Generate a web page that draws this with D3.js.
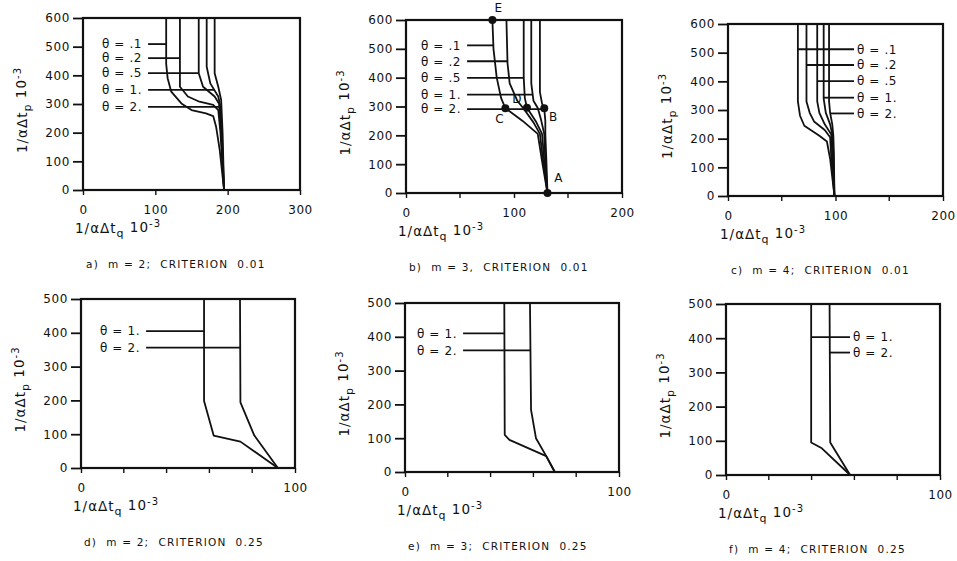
<!DOCTYPE html>
<html>
<head>
<meta charset="utf-8">
<script src="https://cdn.jsdelivr.net/npm/d3@7"></script>
<style>
body { margin: 0; background: #fff; }
text { font-family: "DejaVu Sans", sans-serif; fill: #111; }
</style>
</head>
<body>
<svg id="chart" width="957" height="561"></svg>
<script>
// values, units of 10^-3
var thetaSmall = ["θ = .1", "θ = .2", "θ = .5", "θ = 1.", "θ = 2."];
var thetaLarge = ["θ = 1.", "θ = 2."];

var captions = [
    "a)  m = 2;  CRITERION  0.01",
    "b)  m = 3,  CRITERION  0.01",
    "c)  m = 4;  CRITERION  0.01",
    "d)  m = 2;  CRITERION  0.25",
    "e)  m = 3;  CRITERION  0.25",
    "f)  m = 4;  CRITERION  0.25"
];

var yTicks600 = [0, 100, 200, 300, 400, 500, 600];
var yTicks500 = [0, 100, 200, 300, 400, 500];
var xTicks300 = [0, 100, 200, 300];
var xTicks200 = [0, 100, 200];
var xTicks100 = [0, 100];
var xMinor200 = [50, 150];
var xMinor100 = [20, 40, 60, 80];

// [1/a dt_q, 1/a dt_p] per theta curve
var curvesA = [
    [[115,600],[115,440],[117,390],[122,343],[136,302],[150,279],[170,267],[180,258],[184,221],[189,140],[195,0]],
    [[134,600],[134,360],[145,326],[161,308],[180,297],[187,279],[190,200],[195,0]],
    [[160,600],[160,407],[166,360],[182,326],[188,302],[191,200],[195,0]],
    [[171,600],[171,430],[176,372],[187,326],[190,291],[192,200],[195,0]],
    [[182,600],[182,407],[187,360],[191,314],[193,200],[195,0]]
];
var leaderA = [509, 460, 408, 349, 290];

var curvesB = [
    [[80,600],[81,500],[84,400],[88,330],[92,294],[108,250],[122,205],[126,110],[131,0]],
    [[93,600],[94,450],[96,380],[103,320],[109,292],[118,245],[124,205],[127,110],[131,0]],
    [[109,600],[109,400],[110,330],[112,296],[120,250],[126,205],[128,110],[131,0]],
    [[116,600],[116,380],[118,320],[122,295],[125,255],[128,205],[129,110],[131,0]],
    [[124,600],[124,350],[126,310],[128,294],[129,250],[129,205],[130,110],[131,0]]
];
var leaderB = [512, 457, 399, 341, 291];
var pointsB = [[80,600],[92,294],[112,296],[128,294],[131,0]];
var pointNamesB = ["E", "C", "D", "B", "A"];

var curvesC = [
    [[65,600],[65,330],[67,280],[71,245],[85,210],[92,190],[95,130],[99,0]],
    [[73,600],[73,330],[76,290],[80,260],[90,230],[95,205],[96,140],[99,0]],
    [[83,600],[83,330],[85,290],[90,250],[96,215],[97,150],[99,0]],
    [[89,600],[89,340],[91,290],[95,250],[97,215],[98,150],[99,0]],
    [[94,600],[94,330],[95,290],[97,250],[98,210],[98.5,150],[99,0]]
];
var leaderC = [512, 457, 401, 343, 288];

var curvesD = [
    [[57.5,500],[57.5,198],[62,96],[74.5,78],[92,0]],
    [[74.3,500],[74.5,194],[81,96],[92,0]]
];
var leaderD = [405, 356];

var curvesE = [
    [[46.4,500],[46.6,110],[48.8,95],[66,47],[70,0]],
    [[58.4,500],[58.9,184],[61.2,100],[66,47],[70,0]]
];
var leaderE = [410, 360];

var curvesF = [
    [[39.8,500],[39.8,95],[44.8,78],[58,0]],
    [[48.4,500],[48.7,95],[58,0]]
];
var leaderF = [403, 358];

// layout of the six panels
var panels = [
    {left: 83, right: 300, top: 18, bottom: 190, xMax: 300, yMax: 600, xTicks: xTicks300, xMinor: [], yTicks: yTicks600,
     curves: curvesA, leaders: leaderA, names: thetaSmall, side: "left", labelX: 102, caption: captions[0]},
    {left: 406, right: 622, top: 20, bottom: 193, xMax: 200, yMax: 600, xTicks: xTicks200, xMinor: xMinor200, yTicks: yTicks600,
     curves: curvesB, leaders: leaderB, names: thetaSmall, side: "left", labelX: 421, caption: captions[1], points: pointsB},
    {left: 728, right: 943, top: 24, bottom: 196, xMax: 200, yMax: 600, xTicks: xTicks200, xMinor: xMinor200, yTicks: yTicks600,
     curves: curvesC, leaders: leaderC, names: thetaSmall, side: "right", labelX: 854, caption: captions[2]},
    {left: 81, right: 295, top: 299, bottom: 468, xMax: 100, yMax: 500, xTicks: xTicks100, xMinor: xMinor100, yTicks: yTicks500,
     curves: curvesD, leaders: leaderD, names: thetaLarge, side: "left", labelX: 100, caption: captions[3]},
    {left: 405, right: 619, top: 303, bottom: 472, xMax: 100, yMax: 500, xTicks: xTicks100, xMinor: xMinor100, yTicks: yTicks500,
     curves: curvesE, leaders: leaderE, names: thetaLarge, side: "left", labelX: 417, caption: captions[4]},
    {left: 726, right: 940, top: 304, bottom: 475, xMax: 100, yMax: 500, xTicks: xTicks100, xMinor: xMinor100, yTicks: yTicks500,
     curves: curvesF, leaders: leaderF, names: thetaLarge, side: "right", labelX: 850, caption: captions[5]}
];

// offsets for the point letters in panel b
var pointLabelOffset = [[6, -8], [-6, 15], [-10, -5], [9, 13], [11, -11]];

var svg = d3.select("#chart");

// x of a curve at a given y value (curves are monotone in y)
function xAtY(curve, v) {
    for (var i = 0; i < curve.length - 1; i++) {
        var p = curve[i], q = curve[i + 1];
        if ((v <= p[1] && v >= q[1]) || (v >= p[1] && v <= q[1])) {
            if (p[1] === q[1]) return p[0];
            return p[0] + (q[0] - p[0]) * (v - p[1]) / (q[1] - p[1]);
        }
    }
    return curve[0][0];
}

function axisTitle(sel, sub) {
    sel.append("tspan").text("1/αΔt");
    sel.append("tspan").attr("dy", "0.35em").style("font-size", "11px").text(sub);
    sel.append("tspan").attr("dy", "-0.35em").text("  10");
    sel.append("tspan").attr("dy", "-0.5em").style("font-size", "10px").text("-3");
}

panels.forEach(function(cfg, pi) {
    var x = d3.scaleLinear().domain([0, cfg.xMax]).range([cfg.left, cfg.right]);
    var y = d3.scaleLinear().domain([0, cfg.yMax]).range([cfg.bottom, cfg.top]);
    var g = svg.append("g").attr("class", "panel");

    // y axis ticks, outward
    var yAxis = g.append("g")
        .attr("transform", "translate(" + cfg.left + ",0)")
        .call(d3.axisLeft(y).tickValues(cfg.yTicks).tickSize(10).tickPadding(3).tickFormat(d3.format("d")));
    yAxis.select(".domain").remove();
    yAxis.selectAll("line").attr("stroke", "#111").attr("stroke-width", 1.8);
    yAxis.selectAll("text").style("font-size", "12px").style("letter-spacing", "0.6px").attr("fill", "#111");

    // x axis ticks
    var xAxis = g.append("g")
        .attr("transform", "translate(0," + cfg.bottom + ")")
        .call(d3.axisBottom(x).tickValues(cfg.xTicks).tickSize(5).tickPadding(10).tickFormat(d3.format("d")));
    xAxis.select(".domain").remove();
    xAxis.selectAll("line").attr("stroke", "#111").attr("stroke-width", 1.4);
    xAxis.selectAll("text").style("font-size", "12px").style("letter-spacing", "0.6px").attr("fill", "#111");

    g.selectAll(".minor")
        .data(cfg.xMinor)
        .enter().append("line")
        .attr("class", "minor")
        .attr("x1", function(d) { return x(d); })
        .attr("x2", function(d) { return x(d); })
        .attr("y1", cfg.bottom)
        .attr("y2", cfg.bottom + 5)
        .attr("stroke", "#111")
        .attr("stroke-width", 1.4);

    // frame
    g.append("rect")
        .attr("x", cfg.left).attr("y", cfg.top)
        .attr("width", cfg.right - cfg.left)
        .attr("height", cfg.bottom - cfg.top)
        .attr("fill", "none")
        .attr("stroke", "#111")
        .attr("stroke-width", 2.2);

    // curves
    var line = d3.line()
        .x(function(d) { return x(d[0]); })
        .y(function(d) { return y(d[1]); });

    g.selectAll(".curve")
        .data(cfg.curves)
        .enter().append("path")
        .attr("class", "curve")
        .attr("d", line)
        .attr("fill", "none")
        .attr("stroke", "#111")
        .attr("stroke-width", 1.8)
        .attr("stroke-linejoin", "round");

    // theta labels + leader lines
    cfg.names.forEach(function(name, i) {
        var yv = y(cfg.leaders[i]);
        var cx = x(xAtY(cfg.curves[i], cfg.leaders[i]));
        var t = g.append("text")
            .attr("y", yv)
            .attr("dy", "0.36em")
            .style("font-size", "12px")
            .style("letter-spacing", "0.6px")
            .text(name);
        if (cfg.side === "left") {
            t.attr("x", cfg.labelX);
            var end = cfg.labelX + t.node().getComputedTextLength() + 6;
            g.append("line")
                .attr("x1", end).attr("x2", cx)
                .attr("y1", yv).attr("y2", yv)
                .attr("stroke", "#111").attr("stroke-width", 1.8);
        } else {
            t.attr("x", cfg.labelX + 3);
            g.append("line")
                .attr("x1", cx).attr("x2", cfg.labelX)
                .attr("y1", yv).attr("y2", yv)
                .attr("stroke", "#111").attr("stroke-width", 1.8);
        }
    });

    // marked points (panel b)
    if (cfg.points) {
        g.selectAll(".pt")
            .data(cfg.points)
            .enter().append("circle")
            .attr("class", "pt")
            .attr("cx", function(d) { return x(d[0]); })
            .attr("cy", function(d) { return y(d[1]); })
            .attr("r", 4)
            .attr("fill", "#111");
        g.selectAll(".ptlab")
            .data(cfg.points)
            .enter().append("text")
            .attr("class", "ptlab")
            .attr("x", function(d, j) { return x(d[0]) + pointLabelOffset[j][0]; })
            .attr("y", function(d, j) { return y(d[1]) + pointLabelOffset[j][1]; })
            .attr("text-anchor", "middle")
            .style("font-size", "12px")
            .text(function(d, j) { return pointNamesB[j]; });
    }

    // y title (rotated)
    var ymid = (cfg.top + cfg.bottom) / 2 + 6;
    var yt = g.append("text")
        .attr("transform", "translate(" + (cfg.left - 56) + "," + ymid + ") rotate(-90)")
        .attr("text-anchor", "middle")
        .style("font-size", "13.5px")
        .style("letter-spacing", "1px");
    axisTitle(yt, "p");

    // x title
    var xt = g.append("text")
        .attr("x", cfg.left - 8)
        .attr("y", cfg.bottom + 43)
        .style("font-size", "13.5px")
        .style("letter-spacing", "1px");
    axisTitle(xt, "q");

    // caption
    g.append("text")
        .attr("x", cfg.left + 3)
        .attr("y", cfg.bottom + 78)
        .style("font-size", "10.5px")
        .style("letter-spacing", "1.2px")
        .attr("xml:space", "preserve")
        .style("white-space", "pre")
        .text(cfg.caption);
});
</script>
</body>
</html>
